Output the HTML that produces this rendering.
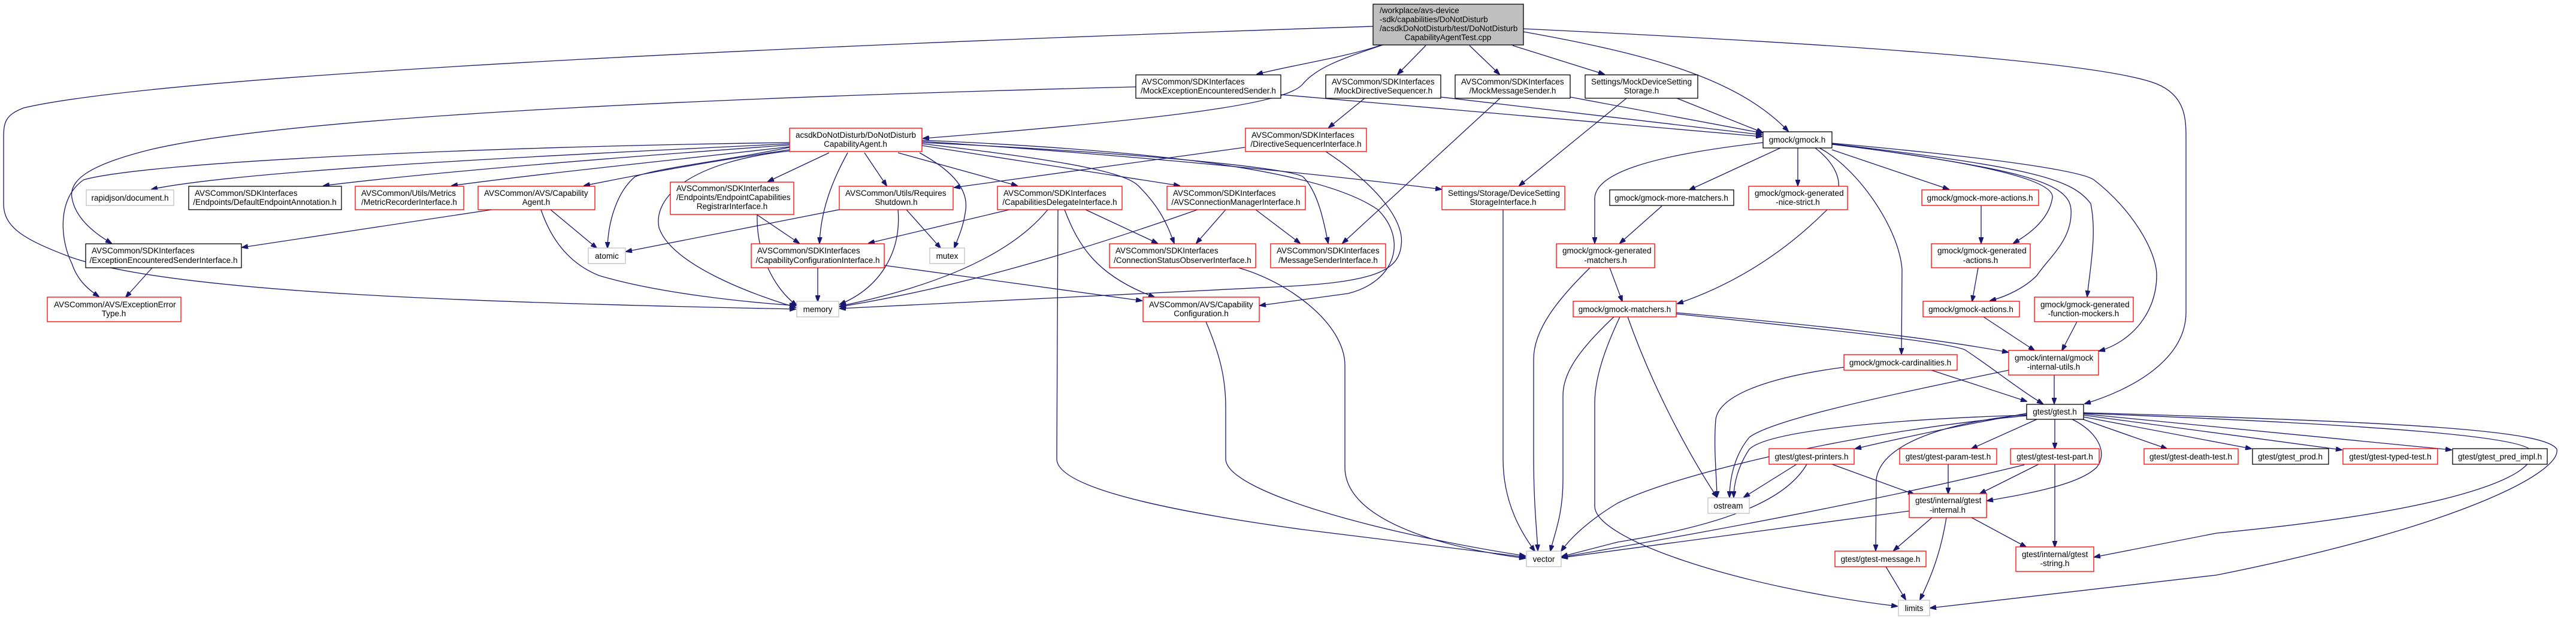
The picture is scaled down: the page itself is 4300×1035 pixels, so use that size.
<!DOCTYPE html>
<html><head><meta charset="utf-8"><style>
html,body{margin:0;padding:0;background:#fff;}
svg{display:block;}
text{font-family:"Liberation Sans",Arial,sans-serif;font-size:13.5px;fill:#000;}
.e{fill:none;stroke:#191970;stroke-width:1.3;marker-end:url(#a);}
.r{fill:#fff;stroke:#ff0000;stroke-width:1.3;}
.k{fill:#fff;stroke:#000;stroke-width:1.3;}
.g{fill:#fff;stroke:#bfbfbf;stroke-width:1.3;}
.c{text-anchor:middle;}
</style></head><body>
<svg width="4300" height="1035" viewBox="0 0 4300 1035" xmlns="http://www.w3.org/2000/svg">
<defs><marker id="a" markerWidth="11" markerHeight="8" refX="10" refY="4" orient="auto" markerUnits="userSpaceOnUse"><path d="M0,0 L11,4 L0,8 z" fill="#191970" stroke="#191970"/></marker></defs>

<!-- edges -->
<path class="e" d="M2292,44 C1500,70 300,120 40,180 C8,192 6,205 6,231 L6,340 C6,380 40,400 120,430 C300,490 800,505 1328,516"/>
<path class="e" d="M2306,75 C2250,95 2150,110 2098,124"/>
<path class="e" d="M2308,75 C2250,95 2200,110 2175,140 C2150,170 2000,195 1541,231"/>
<path class="e" d="M2138,158 L2941,228"/>
<path class="e" d="M2380,76 L2333,124"/>
<path class="e" d="M2453,76 L2503,124"/>
<path class="e" d="M2525,76 L2678,124"/>
<path class="e" d="M2543,53 C2750,90 2900,130 2985,219"/>
<path class="e" d="M2543,48 C3000,70 3500,100 3600,140 C3649,160 3649,200 3649,231 L3649,521 C3649,600 3560,650 3480,674"/>
<path class="e" d="M2278,164 L2218,213"/>
<path class="e" d="M2405,162 L2941,225"/>
<path class="e" d="M2504,164 L2241,406"/>
<path class="e" d="M2621,162 L2941,222"/>
<path class="e" d="M2715,164 L2536,310"/>
<path class="e" d="M2799,164 L2942,221"/>
<path class="e" d="M2078,246 L1593,313"/>
<path class="e" d="M2213,253 C2300,310 2345,370 2339,409 C2335,450 2300,470 2150,478 L1402,515"/>
<path class="e" d="M2067,447 C2150,470 2245,540 2245,610 L2245,780 C2245,880 2450,920 2546,932"/>
<path class="e" d="M1766,350 L1764,766 C1764,820 2000,860 2175,884 L2546,930"/>
<path class="e" d="M2013,537 C2040,600 2046,640 2046,680 L2046,766 C2046,820 2300,890 2546,928"/>
<path class="e" d="M2509,350 L2509,766 C2509,840 2540,890 2562,920"/>
<path class="e" d="M2654,447 C2600,500 2560,550 2560,600 L2560,760 C2560,840 2565,880 2567,919"/>
<path class="e" d="M2687,447 L2708,503"/>
<path class="e" d="M2774,344 L2704,406"/>
<path class="e" d="M2943,238 C2750,260 2665,290 2662,330 L2662,406"/>
<path class="e" d="M2972,247 L2820,317"/>
<path class="e" d="M3001,247 L3001,310"/>
<path class="e" d="M3030,247 C3060,270 3090,310 3050,350 C2950,450 2850,490 2800,507"/>
<path class="e" d="M3037,247 C3100,280 3170,380 3175,450 L3174,591"/>
<path class="e" d="M3058,250 L3253,316"/>
<path class="e" d="M3058,241 C3300,270 3430,300 3426,330 C3420,370 3380,395 3361,406"/>
<path class="e" d="M3058,240 C3350,280 3455,300 3457,350 C3460,400 3420,430 3400,460 C3380,480 3350,495 3322,502"/>
<path class="e" d="M3058,240 C3400,280 3460,300 3490,340 C3500,390 3490,440 3484,495"/>
<path class="e" d="M3058,239 C3400,270 3480,290 3495,300 C3560,350 3600,420 3600,460 C3600,520 3560,570 3504,586"/>
<path class="e" d="M2798,522 C3000,540 3200,560 3352,588"/>
<path class="e" d="M2798,524 C3000,545 3250,570 3280,584 C3320,610 3370,650 3410,674"/>
<path class="e" d="M2694,529 C2640,580 2609,620 2609,660 L2609,800 C2609,860 2595,890 2588,920"/>
<path class="e" d="M2704,529 C2680,580 2662,630 2662,673 L2662,845 C2662,900 2900,980 3167,1012"/>
<path class="e" d="M2717,529 C2760,650 2820,760 2866,830"/>
<path class="e" d="M3311,529 L3396,585"/>
<path class="e" d="M3302,447 L3292,503"/>
<path class="e" d="M3307,343 L3307,406"/>
<path class="e" d="M3467,537 L3442,585"/>
<path class="e" d="M3429,626 L3429,674"/>
<path class="e" d="M3078,613 C2950,630 2870,660 2864,700 C2860,750 2866,800 2866,830"/>
<path class="e" d="M3353,618 C3150,660 2960,700 2920,730 C2895,760 2887,800 2887,830"/>
<path class="e" d="M3383,693 C3150,700 2950,720 2920,750 C2900,780 2894,810 2894,830"/>
<path class="e" d="M2999,775 L2911,830"/>
<path class="e" d="M3221,617 L3383,670"/>
<path class="e" d="M3383,694 C3100,720 2800,790 2700,840 C2650,870 2620,900 2606,920"/>
<path class="e" d="M3225,864 L3161,919"/>
<path class="e" d="M3249,864 C3240,920 3225,960 3205,1001"/>
<path class="e" d="M3148,946 L3181,1001"/>
<path class="e" d="M3291,864 L3382,913"/>
<path class="e" d="M3058,775 L3195,825"/>
<path class="e" d="M3016,775 C2990,820 2920,870 2700,905 L2607,929"/>
<path class="e" d="M3187,853 L2607,931"/>
<path class="e" d="M3252,775 L3252,824"/>
<path class="e" d="M3403,775 L3305,824"/>
<path class="e" d="M3430,775 L3430,913"/>
<path class="e" d="M3379,776 C3300,795 3100,845 2607,930"/>
<path class="e" d="M3459,700 C3500,720 3520,755 3500,780 C3470,810 3380,825 3317,836"/>
<path class="e" d="M3400,700 L3291,749"/>
<path class="e" d="M3430,700 L3430,749"/>
<path class="e" d="M3477,700 L3617,749"/>
<path class="e" d="M3478,696 L3758,749"/>
<path class="e" d="M3478,693 L3909,751"/>
<path class="e" d="M3478,691 L4092,751"/>
<path class="e" d="M3478,690 C4000,710 4210,730 4225,752 C4240,790 4120,850 3700,890 L3496,930"/>
<path class="e" d="M3478,689 C4050,705 4250,720 4268,750 C4275,790 4100,880 3700,960 L3222,1015"/>
<path class="e" d="M3383,690 C3300,705 3200,725 3097,749"/>
<path class="e" d="M3383,692 C3250,705 3140,740 3132,800 L3131,919"/>
<path class="e" d="M1318,240 C900,260 400,285 253,316"/>
<path class="e" d="M1318,242 C1000,265 700,290 540,310"/>
<path class="e" d="M1318,245 C1100,270 900,290 754,310"/>
<path class="e" d="M1318,250 C1150,275 1050,295 975,310"/>
<path class="e" d="M1318,238 C800,245 250,270 140,300 C95,330 100,400 120,440 C130,470 150,485 165,495"/>
<path class="e" d="M1896,145 C1300,160 500,190 250,250 C150,275 115,300 120,330 C125,360 150,385 186,406"/>
<path class="e" d="M821,350 L404,413"/>
<path class="e" d="M919,350 L996,414"/>
<path class="e" d="M903,350 C920,400 950,440 1000,460 C1100,490 1250,505 1328,510"/>
<path class="e" d="M254,447 L210,496"/>
<path class="e" d="M1318,246 C1200,270 1100,280 1060,295 C1030,320 1015,370 1014,414"/>
<path class="e" d="M1401,350 L1045,420"/>
<path class="e" d="M1318,252 C1150,270 1090,330 1100,380 C1120,440 1250,490 1328,513"/>
<path class="e" d="M1384,255 L1282,303"/>
<path class="e" d="M1415,255 C1390,300 1370,350 1368,406"/>
<path class="e" d="M1443,255 L1480,310"/>
<path class="e" d="M1535,255 C1580,280 1617,310 1612,350 C1608,380 1600,395 1593,414"/>
<path class="e" d="M1499,255 L1698,310"/>
<path class="e" d="M1539,243 L1969,310"/>
<path class="e" d="M1539,240 C1800,270 1880,290 1900,310 C1940,350 1950,380 1960,406"/>
<path class="e" d="M1539,238 C1900,255 2150,280 2175,295 C2200,320 2210,370 2217,406"/>
<path class="e" d="M1539,236 C1900,260 2200,290 2406,316"/>
<path class="e" d="M1539,234 C1900,250 2200,280 2300,350 C2350,400 2330,470 2250,490 L2103,510"/>
<path class="e" d="M1263,358 L1334,406"/>
<path class="e" d="M1264,358 C1262,420 1290,480 1330,510"/>
<path class="e" d="M1513,350 L1570,414"/>
<path class="e" d="M1499,350 C1505,420 1470,480 1402,508"/>
<path class="e" d="M1685,350 L1450,406"/>
<path class="e" d="M1749,350 C1700,410 1600,470 1402,511"/>
<path class="e" d="M1812,350 L1932,406"/>
<path class="e" d="M1777,350 C1800,410 1830,460 1927,496"/>
<path class="e" d="M2046,350 L1997,406"/>
<path class="e" d="M1999,350 C1800,420 1600,480 1402,512"/>
<path class="e" d="M2096,350 L2170,406"/>
<path class="e" d="M1365,447 L1365,503"/>
<path class="e" d="M1476,443 L1906,502"/>

<!-- nodes -->
<rect x="2292" y="7" width="251" height="68" fill="#bfbfbf" stroke="#000" stroke-width="1.3"/>
<text x="2303" y="22">/workplace/avs-device</text><text x="2303" y="37">-sdk/capabilities/DoNotDisturb</text><text x="2303" y="52">/acsdkDoNotDisturb/test/DoNotDisturb</text><text class="c" x="2417" y="67">CapabilityAgentTest.cpp</text>

<rect class="g" x="144" y="317" width="146" height="26"/><text class="c" x="217" y="335">rapidjson/document.h</text>
<rect class="k" x="315" y="311" width="255" height="39"/><text x="325" y="327">AVSCommon/SDKInterfaces</text><text class="c" x="442" y="342">/Endpoints/DefaultEndpointAnnotation.h</text>
<rect class="r" x="593" y="311" width="181" height="39"/><text x="603" y="327">AVSCommon/Utils/Metrics</text><text class="c" x="683" y="342">/MetricRecorderInterface.h</text>
<rect class="r" x="798" y="311" width="195" height="39"/><text x="808" y="327">AVSCommon/AVS/Capability</text><text class="c" x="895" y="342">Agent.h</text>
<rect class="k" x="143" y="407" width="260" height="40"/><text x="153" y="423">AVSCommon/SDKInterfaces</text><text class="c" x="273" y="439">/ExceptionEncounteredSenderInterface.h</text>
<rect class="g" x="982" y="414" width="62" height="26"/><text class="c" x="1013" y="432">atomic</text>
<rect class="r" x="79" y="496" width="223" height="41"/><text x="90" y="513">AVSCommon/AVS/ExceptionError</text><text class="c" x="190" y="528">Type.h</text>
<rect class="k" x="1896" y="125" width="242" height="39"/><text x="1906" y="141">AVSCommon/SDKInterfaces</text><text class="c" x="2017" y="156">/MockExceptionEncounteredSender.h</text>
<rect class="r" x="1318" y="214" width="221" height="39"/><text x="1328" y="230">acsdkDoNotDisturb/DoNotDisturb</text><text class="c" x="1428" y="245">CapabilityAgent.h</text>
<rect class="r" x="1119" y="304" width="206" height="54"/><text x="1129" y="319">AVSCommon/SDKInterfaces</text><text x="1129" y="334">/Endpoints/EndpointCapabilities</text><text class="c" x="1222" y="349">RegistrarInterface.h</text>
<rect class="r" x="1401" y="311" width="190" height="39"/><text x="1411" y="327">AVSCommon/Utils/Requires</text><text class="c" x="1496" y="342">Shutdown.h</text>
<rect class="r" x="1665" y="311" width="208" height="39"/><text x="1675" y="327">AVSCommon/SDKInterfaces</text><text class="c" x="1769" y="342">/CapabilitiesDelegateInterface.h</text>
<rect class="r" x="1948" y="311" width="231" height="39"/><text x="1958" y="327">AVSCommon/SDKInterfaces</text><text class="c" x="2063" y="342">/AVSConnectionManagerInterface.h</text>
<rect class="r" x="1254" y="407" width="222" height="40"/><text x="1264" y="423">AVSCommon/SDKInterfaces</text><text class="c" x="1365" y="439">/CapabilityConfigurationInterface.h</text>
<rect class="g" x="1552" y="414" width="58" height="26"/><text class="c" x="1581" y="432">mutex</text>
<rect class="r" x="1852" y="407" width="244" height="40"/><text x="1862" y="423">AVSCommon/SDKInterfaces</text><text class="c" x="1974" y="439">/ConnectionStatusObserverInterface.h</text>
<rect class="r" x="2121" y="407" width="192" height="40"/><text x="2131" y="423">AVSCommon/SDKInterfaces</text><text class="c" x="2217" y="439">/MessageSenderInterface.h</text>
<rect class="g" x="1330" y="503" width="70" height="26"/><text class="c" x="1365" y="521">memory</text>
<rect class="r" x="1908" y="496" width="194" height="41"/><text x="1918" y="513">AVSCommon/AVS/Capability</text><text class="c" x="2005" y="528">Configuration.h</text>
<rect class="r" x="2079" y="214" width="202" height="39"/><text x="2089" y="230">AVSCommon/SDKInterfaces</text><text class="c" x="2180" y="245">/DirectiveSequencerInterface.h</text>
<rect class="k" x="2213" y="125" width="192" height="39"/><text x="2223" y="141">AVSCommon/SDKInterfaces</text><text class="c" x="2309" y="156">/MockDirectiveSequencer.h</text>
<rect class="k" x="2429" y="125" width="192" height="39"/><text x="2439" y="141">AVSCommon/SDKInterfaces</text><text class="c" x="2525" y="156">/MockMessageSender.h</text>
<rect class="k" x="2646" y="125" width="188" height="39"/><text x="2656" y="141">Settings/MockDeviceSetting</text><text class="c" x="2740" y="156">Storage.h</text>
<rect class="k" x="2943" y="220" width="115" height="27"/><text class="c" x="3000" y="238">gmock/gmock.h</text>
<rect class="r" x="2407" y="311" width="205" height="39"/><text x="2417" y="327">Settings/Storage/DeviceSetting</text><text class="c" x="2509" y="342">StorageInterface.h</text>
<rect class="k" x="2687" y="317" width="207" height="26"/><text class="c" x="2790" y="335">gmock/gmock-more-matchers.h</text>
<rect class="r" x="2919" y="311" width="165" height="39"/><text x="2929" y="327">gmock/gmock-generated</text><text class="c" x="3001" y="342">-nice-strict.h</text>
<rect class="r" x="2598" y="407" width="164" height="40"/><text x="2608" y="423">gmock/gmock-generated</text><text class="c" x="2680" y="439">-matchers.h</text>
<rect class="r" x="2626" y="503" width="172" height="26"/><text class="c" x="2712" y="521">gmock/gmock-matchers.h</text>
<rect class="r" x="3078" y="592" width="189" height="26"/><text class="c" x="3172" y="610">gmock/gmock-cardinalities.h</text>
<rect class="r" x="2953" y="749" width="142" height="26"/><text class="c" x="3024" y="767">gtest/gtest-printers.h</text>
<rect class="r" x="3171" y="749" width="162" height="26"/><text class="c" x="3252" y="767">gtest/gtest-param-test.h</text>
<rect class="g" x="2851" y="831" width="69" height="26"/><text class="c" x="2885" y="849">ostream</text>
<rect class="r" x="3187" y="824" width="129" height="40"/><text x="3197" y="840">gtest/internal/gtest</text><text class="c" x="3251" y="856">-internal.h</text>
<rect class="g" x="2548" y="920" width="58" height="26"/><text class="c" x="2577" y="938">vector</text>
<rect class="r" x="3063" y="920" width="152" height="26"/><text class="c" x="3139" y="938">gtest/gtest-message.h</text>
<rect class="g" x="3169" y="1002" width="52" height="26"/><text class="c" x="3195" y="1020">limits</text>
<rect class="r" x="3208" y="317" width="195" height="26"/><text class="c" x="3305" y="335">gmock/gmock-more-actions.h</text>
<rect class="r" x="3224" y="407" width="165" height="40"/><text x="3234" y="423">gmock/gmock-generated</text><text class="c" x="3306" y="439">-actions.h</text>
<rect class="r" x="3210" y="503" width="161" height="26"/><text class="c" x="3290" y="521">gmock/gmock-actions.h</text>
<rect class="r" x="3396" y="496" width="165" height="41"/><text x="3406" y="513">gmock/gmock-generated</text><text class="c" x="3478" y="528">-function-mockers.h</text>
<rect class="r" x="3353" y="585" width="150" height="41"/><text x="3363" y="602">gmock/internal/gmock</text><text class="c" x="3428" y="617">-internal-utils.h</text>
<rect class="k" x="3383" y="675" width="95" height="25"/><text class="c" x="3430" y="692">gtest/gtest.h</text>
<rect class="r" x="3356" y="749" width="148" height="26"/><text class="c" x="3430" y="767">gtest/gtest-test-part.h</text>
<rect class="r" x="3579" y="749" width="157" height="26"/><text class="c" x="3657" y="767">gtest/gtest-death-test.h</text>
<rect class="k" x="3760" y="749" width="127" height="26"/><text class="c" x="3823" y="767">gtest/gtest_prod.h</text>
<rect class="r" x="3911" y="749" width="158" height="26"/><text class="c" x="3990" y="767">gtest/gtest-typed-test.h</text>
<rect class="k" x="4094" y="749" width="158" height="26"/><text class="c" x="4173" y="767">gtest/gtest_pred_impl.h</text>
<rect class="r" x="3365" y="913" width="130" height="41"/><text x="3375" y="930">gtest/internal/gtest</text><text class="c" x="3430" y="945">-string.h</text>
</svg>
</body></html>
